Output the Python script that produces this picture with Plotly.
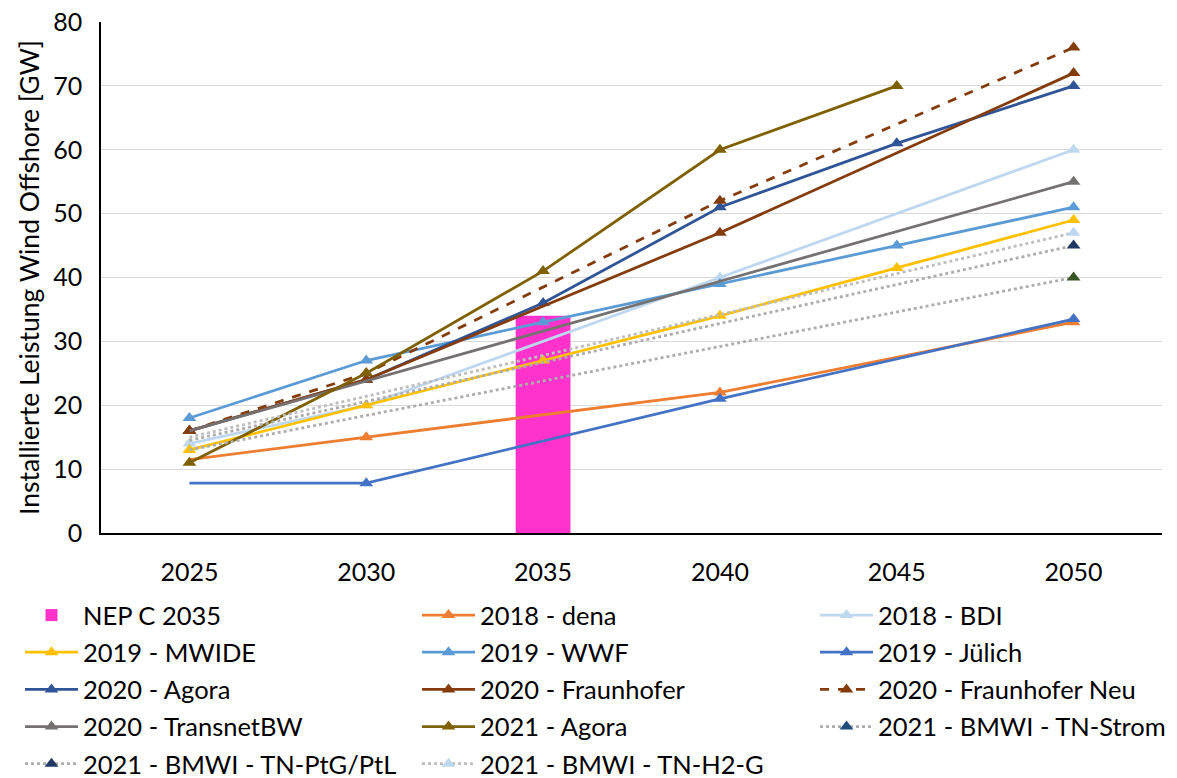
import plotly.graph_objects as go

# Category axis (scenario target years)
years = ["2025", "2030", "2035", "2040", "2045", "2050"]

# NEP C 2035 reference value [GW]
nep_year = ["2035"]
nep_value = [34]

# Installed offshore wind capacity per study [GW]; None = no value for that year
dena_2018 = [11.5, 15, None, 22, None, 33]
bdi_2018 = [14, 20, None, 40, None, 60]
mwide_2019 = [13, 20, 27, 34, 41.5, 49]
wwf_2019 = [18, 27, 33, 39, 45, 51]
juelich_2019 = [7.8, 7.8, None, 21, None, 33.5]
agora_2020 = [16, 24, 36, 51, 61, 70]
fraunhofer_2020 = [16, 24, None, 47, None, 72]
fraunhofer_neu_2020 = [16, 25, None, 52, None, 76]
transnetbw_2020 = [16, None, None, None, None, 55]
agora_2021 = [11, 25, 41, 60, 70, None]
bmwi_tn_strom = [13, None, None, None, None, 40]
bmwi_tn_ptg_ptl = [14.5, None, None, None, None, 45]
bmwi_tn_h2_g = [15, None, None, None, None, 47]

FONT = "Lato"
TXT = 25.5

# name, values, line colour, dash, marker colour, indices drawn without a marker
series = [
    ("2018 - dena", dena_2018, "#ED7D31", "solid", "#ED7D31", [0]),
    ("2018 - BDI", bdi_2018, "#BDD7EE", "solid", "#BDD7EE", []),
    ("2019 - MWIDE", mwide_2019, "#FFC000", "solid", "#FFC000", []),
    ("2019 - WWF", wwf_2019, "#5B9BD5", "solid", "#5B9BD5", []),
    ("2019 - Jülich", juelich_2019, "#4472C4", "solid", "#4472C4", [0]),
    ("2020 - Agora", agora_2020, "#2F5597", "solid", "#2F5597", []),
    ("2020 - Fraunhofer", fraunhofer_2020, "#843C0C", "solid", "#843C0C", []),
    ("2020 - Fraunhofer Neu", fraunhofer_neu_2020, "#843C0C", "dash", "#843C0C", []),
    ("2020 - TransnetBW", transnetbw_2020, "#767171", "solid", "#767171", [0]),
    ("2021 - Agora", agora_2021, "#7F6000", "solid", "#7F6000", []),
    ("2021 - BMWI - TN-Strom", bmwi_tn_strom, "#ADADAD", "dot",
     ["#1F4E79"] * 5 + ["#375623"], [0]),
    ("2021 - BMWI - TN-PtG/PtL", bmwi_tn_ptg_ptl, "#ADADAD", "dot", "#203864", [0]),
    ("2021 - BMWI - TN-H2-G", bmwi_tn_h2_g, "#BDBDBD", "dot", "#BDD7EE", [0]),
]

# three legend columns, filled row by row
legend_ids = ["legend", "legend2", "legend3"]

fig = go.Figure()

fig.add_trace(go.Bar(
    x=nep_year, y=nep_value, name="NEP C 2035",
    marker=dict(color="#FF33CC", line=dict(width=0)),
    width=0.31, legend=legend_ids[0], legendgroup="NEP C 2035",
))

for k, (name, values, color, dash, mcolor, hidden) in enumerate(series, start=1):
    shown = [i for i, v in enumerate(values) if v is not None and i not in hidden]
    kw = {}
    if hidden:
        kw = dict(selectedpoints=shown,
                  unselected=dict(marker=dict(opacity=0)),
                  selected=dict(marker=dict(opacity=1)))
    fig.add_trace(go.Scatter(
        x=years, y=values, name=name, mode="lines+markers",
        connectgaps=True,
        line=dict(color=color, width=2.8, dash=dash),
        marker=dict(symbol="triangle-up", size=12, color=mcolor,
                    line=dict(width=0)),
        legend=legend_ids[k % 3], legendgroup=name,
        **kw,
    ))

# plot area: x 101..1162 px, y 22..533 px
PL, PW, PB, PH = 101, 1061, 533, 511
legend_px = [20, 417, 815]
legend_top_px = 592
legend_common = dict(
    orientation="v", y=(PB - legend_top_px) / PH, xanchor="left", yanchor="top",
    itemwidth=53, tracegroupgap=1, bgcolor="rgba(0,0,0,0)",
    font=dict(family=FONT, size=TXT, color="#000000"),
)

fig.update_layout(
    width=1177, height=778,
    margin=dict(l=101, r=15, t=22, b=245, autoexpand=False),
    paper_bgcolor="white", plot_bgcolor="white",
    font=dict(family=FONT, size=TXT, color="#000000"),
    showlegend=True,
    legend=dict(x=(legend_px[0] - PL) / PW, **legend_common),
    legend2=dict(x=(legend_px[1] - PL) / PW, **legend_common),
    legend3=dict(x=(legend_px[2] - PL) / PW, **legend_common),
)

fig.update_xaxes(
    type="category", categoryorder="array", categoryarray=years,
    range=[-0.5, 5.5], showgrid=False, showline=True,
    linecolor="#000000", linewidth=1.5, ticks="",
    tickfont=dict(family=FONT, size=25), zeroline=False,
    ticklabelstandoff=16,
)
fig.update_yaxes(
    range=[0, 80], dtick=10, showgrid=True, gridcolor="#D9D9D9", gridwidth=1.3,
    showline=True, linecolor="#000000", linewidth=1.5, ticks="",
    zeroline=False, tickfont=dict(family=FONT, size=25),
    ticklabelstandoff=12,
    title=dict(text="Installierte Leistung Wind Offshore [GW]",
               font=dict(family=FONT, size=26.5), standoff=6),
)

fig.write_html("out.html")
